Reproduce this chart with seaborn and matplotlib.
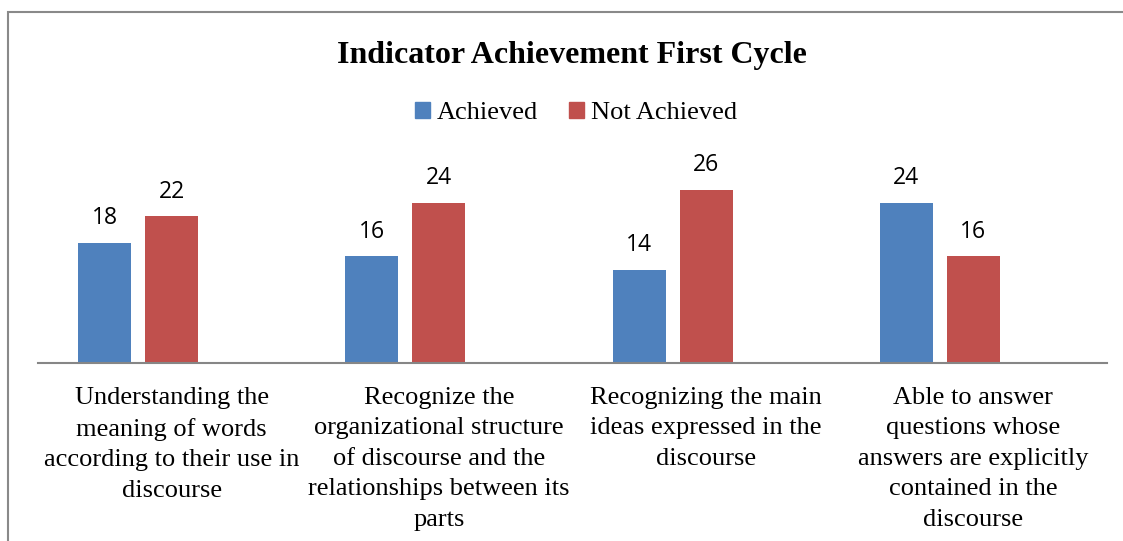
import matplotlib
matplotlib.use("Agg")
import matplotlib.pyplot as plt
import seaborn as sns
import pandas as pd
from matplotlib.patches import Rectangle

# chart data
categories = [
    "Understanding the\nmeaning of words\naccording to their use in\ndiscourse",
    "Recognize the\norganizational structure\nof discourse and the\nrelationships between its\nparts",
    "Recognizing the main\nideas expressed in the\ndiscourse",
    "Able to answer\nquestions whose\nanswers are explicitly\ncontained in the\ndiscourse",
]
achieved = [18, 16, 14, 24]
not_achieved = [22, 24, 26, 16]
series_names = ["Achieved", "Not Achieved"]

# Excel chart keeps an empty third series slot, so bars sit left of group centre
blank = [0, 0, 0, 0]

rows = []
for cat, a, n, b in zip(categories, achieved, not_achieved, blank):
    rows.append({"cat": cat, "series": "Achieved", "value": a})
    rows.append({"cat": cat, "series": "Not Achieved", "value": n})
    rows.append({"cat": cat, "series": "_blank", "value": b})
df = pd.DataFrame(rows)

sns.set_theme(style="white")
plt.rcParams['font.family'] = ['Liberation Serif', 'DejaVu Serif']
plt.rcParams['text.color'] = 'black'
plt.rcParams['xtick.color'] = 'black'

fig = plt.figure(figsize=(11.23, 5.41), dpi=100)
ax = fig.add_axes([38 / 1123, 178 / 541, 1069 / 1123, 200 / 541])

palette = {"Achieved": "#4F81BD", "Not Achieved": "#C0504D", "_blank": "#FFFFFF"}
sns.barplot(data=df, x="cat", y="value", hue="series",
            hue_order=["Achieved", "Not Achieved", "_blank"],
            order=categories, palette=palette, width=0.753, gap=0.21,
            linewidth=0, saturation=1, legend=False, ax=ax)

ax.set_ylim(0, 30)
ax.set_xlim(-0.5, 3.5)
ax.set_yticks([])
ax.set_xlabel("")
ax.set_ylabel("")
for s in ["left", "right", "top"]:
    ax.spines[s].set_visible(False)
ax.spines["bottom"].set_color("#868686")
ax.spines["bottom"].set_linewidth(1.5)
ax.tick_params(axis="x", length=0, pad=17)
ax.set_xticks(range(len(categories)))
ax.set_xticklabels(categories, fontsize=19, linespacing=1.5, color="black")

# value labels
for cont in ax.containers[:2]:
    ax.bar_label(cont, padding=9, fontsize=16.5, family="Open Sans", color="black")

# legend with only the two real series
handles = [Rectangle((0, 0), 1, 1, color=palette[n]) for n in series_names]
fig.legend(handles, series_names, loc="center", bbox_to_anchor=(0.513, 1 - 113 / 541),
           ncol=2, frameon=False, fontsize=19, handlelength=0.55, handleheight=0.55,
           handletextpad=0.25, columnspacing=1.2, labelcolor="black")

fig.text(0.509, 1 - 55 / 541, "Indicator Achievement First Cycle",
         ha="center", va="center", fontsize=23, fontweight="bold", color="black")

# chart area border, cut off at right and bottom
fig.patches.append(Rectangle((8 / 1123, -0.2), 1.2, 1.2 - 12 / 541,
                             transform=fig.transFigure, fill=False,
                             edgecolor="#898989", linewidth=1.5))

fig.savefig("out.png", dpi=100)
